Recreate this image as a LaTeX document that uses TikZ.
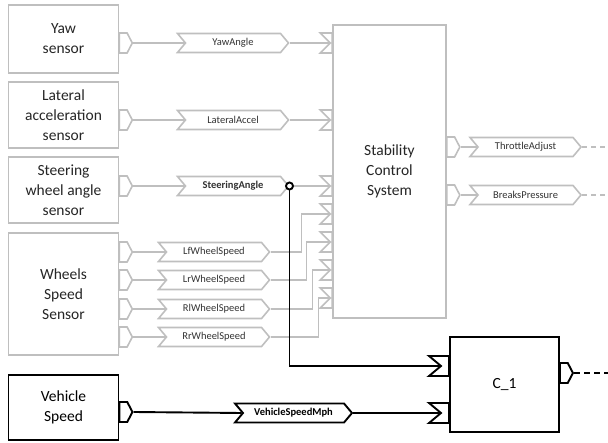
\documentclass[tikz,border=0pt]{standalone}
\usepackage{fontspec}
\setmainfont{Carlito}
\usetikzlibrary{shapes.symbols}

\begin{document}
\begin{tikzpicture}[
  x=1pt,y=-1pt,
  line width=1.6pt,
  block/.style={draw=wiregray,fill=white,align=center,text=black!85,inner sep=0pt,
    font=\fontsize{15.5}{20}\selectfont},
  ctrlblock/.style={block,draw=black,text=black,line width=1.9pt},
  outport/.style={signal,signal to=east,signal from=nowhere,signal pointer angle=125,
    draw=wiregray,fill=white,minimum width=13pt,minimum height=20pt,inner sep=0pt,anchor=west},
  inport/.style={signal,signal from=west,signal to=nowhere,signal pointer angle=90,
    draw=wiregray,fill=white,minimum width=12pt,minimum height=20pt,inner sep=0pt,anchor=east},
  sigbox/.style={signal,signal from=west,signal to=east,signal pointer angle=100,
    draw=wiregray,fill=white,text=black!80,inner sep=0pt,minimum width=111pt,minimum height=19pt,
    font=\fontsize{10.5}{12}\selectfont},
  wire/.style={draw=wiregray},
  ctrlwire/.style={draw=black,line width=1.9pt},
  tapdot/.style={circle,draw=black,fill=white,line width=1.9pt,inner sep=0pt,minimum size=7pt}
]
\definecolor{wiregray}{RGB}{191,191,191}

\useasboundingbox (0,0) rectangle (608,443);

% Sensor blocks on the left.
\node[block,minimum width=110pt,minimum height=68pt] (yaw) at (63.5,39) {Yaw\\sensor};
\node[block,minimum width=110pt,minimum height=66pt] (lat) at (63.5,115) {Lateral\\acceleration\\sensor};
\node[block,minimum width=110pt,minimum height=66pt] (steer) at (63.5,190) {Steering\\wheel angle\\sensor};
\node[block,minimum width=110pt,minimum height=122pt] (wheels) at (63.5,294) {Wheels\\Speed\\Sensor};
\node[ctrlblock,minimum width=110pt,minimum height=65pt] (vspeed) at (63.5,407.5) {Vehicle\\Speed};

% Controller blocks.
\node[block,minimum width=113pt,minimum height=293pt] (scs) at (389.5,171.5) {Stability\\Control\\System};
\node[ctrlblock,minimum width=109pt,minimum height=95pt] (cone) at (504.5,384.5) {C\_1};

% Output ports of the sensors.
\node[outport] (outyaw) at (118.5,43) {};
\node[outport] (outlat) at (118.5,120) {};
\node[outport] (outsteer) at (118.5,186) {};
\foreach \y/\n in {252/lf,280/lr,309/rl,337/rr}
  \node[outport] (out\n) at (118.5,\y) {};
\node[outport,draw=black,line width=1.9pt] (outvs) at (118.5,412) {};

% Input ports of the stability control system.
\node[inport] (inyaw) at (333,43) {};
\node[inport] (inlat) at (333,120) {};
\node[inport] (insteer) at (333,186) {};
\foreach \y/\n in {214/lf,242/lr,270/rl,298/rr}
  \node[inport] (in\n) at (333,\y) {};

% Input ports of C_1.
\node[inport,draw=black,line width=1.9pt,minimum width=20pt,signal pointer angle=80] (c1a) at (450,366) {};
\node[inport,draw=black,line width=1.9pt,minimum width=20pt,signal pointer angle=80] (c1b) at (450,413) {};

% Output ports of the controllers.
\node[outport] (outthr) at (446,147) {};
\node[outport] (outbrk) at (446,195) {};
\node[outport,draw=black,line width=1.9pt] (outc1) at (559,373) {};

% Signals.
\node[sigbox] (yawsig) at (233,43) {YawAngle};
\node[sigbox] (latsig) at (233,120) {LateralAccel};
\node[sigbox,font=\fontsize{10.5}{12}\selectfont\bfseries] (steersig) at (233,186) {SteeringAngle};
\foreach \y/\n/\t in {252/lf/LfWheelSpeed,280/lr/LrWheelSpeed,309/rl/RlWheelSpeed,337/rr/RrWheelSpeed}
  \node[sigbox] (\n) at (214,\y) {\t};
\node[sigbox,draw=black,text=black,line width=1.9pt,minimum width=117pt,
  font=\fontsize{10.5}{12}\selectfont\bfseries] (vssig) at (293.5,413) {VehicleSpeedMph};
\node[sigbox] (thr) at (525.5,147) {ThrottleAdjust};
\node[sigbox] (brk) at (525.5,195) {BreaksPressure};

% Tap on the steering angle.
\node[tapdot] (tap) at (289.5,186) {};

% Free ends of the outgoing signals.
\coordinate (thrend) at (608,147);
\coordinate (brkend) at (608,195);
\coordinate (c1end) at (608,373);

% Gray wiring.
\draw[wire] (outyaw.east) -- (yawsig.west);
\draw[wire] (yawsig.east) -- (inyaw.west);
\draw[wire] (outlat.east) -- (latsig.west);
\draw[wire] (latsig.east) -- (inlat.west);
\draw[wire] (outsteer.east) -- (steersig.west);
\draw[wire] (tap.east) -- (insteer.west);
\foreach \n/\d in {lf/31,lr/36,rl/42,rr/48} {
  \draw[wire] (out\n.east) -- (\n.west);
  \draw[wire] (\n.east) -- ++(\d,0) |- (in\n.west);
}
\draw[wire] (outthr.east) -- (thr.west);
\draw[wire] (outbrk.east) -- (brk.west);
\draw[wire,dash pattern=on 5pt off 4pt] (thr.east) -- (thrend);
\draw[wire,dash pattern=on 5pt off 4pt] (brk.east) -- (brkend);

% Black wiring.
\draw[ctrlwire] (tap.south) |- (c1a.west);
\draw[ctrlwire] (outvs.east) -- (vssig.west);
\draw[ctrlwire] (vssig.east) -- (c1b.west);
\draw[ctrlwire,dash pattern=on 6pt off 4pt] (outc1.east) -- (c1end);
\end{tikzpicture}
\end{document}
